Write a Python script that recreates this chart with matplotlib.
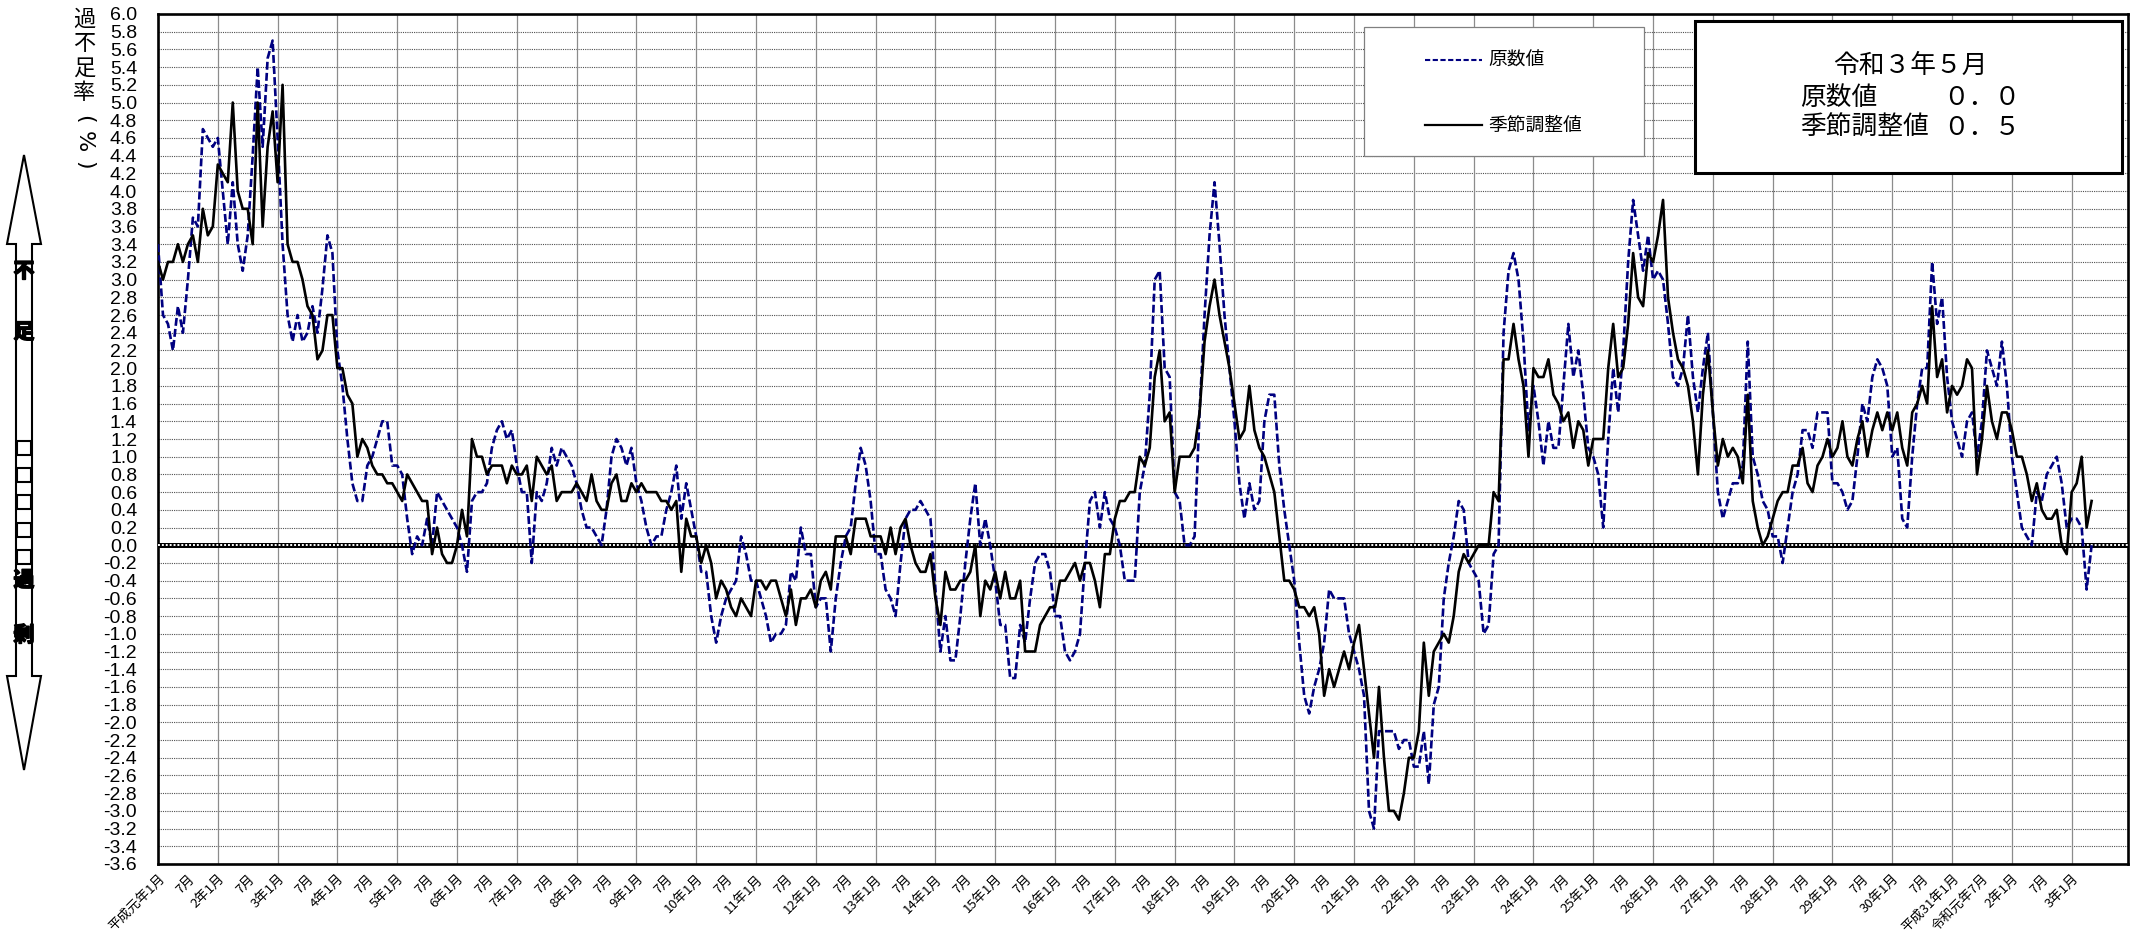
import numpy as np
import matplotlib.pyplot as plt
import matplotlib.patheffects as pe
from matplotlib.lines import Line2D
from matplotlib.patches import Polygon, Rectangle
from matplotlib.ticker import FormatStrFormatter

# monthly values, 平成元年1月 .. 令和3年5月
raw = [
    3.4, 2.6, 2.5, 2.2, 2.7, 2.4, 3.0, 3.7, 3.6, 4.7, 4.6, 4.5,
    4.6, 4.0, 3.4, 4.1, 3.4, 3.1, 3.5, 4.4, 5.4, 4.5, 5.5, 5.7,
    4.6, 3.4, 2.6, 2.3, 2.6, 2.3, 2.4, 2.7, 2.4, 2.9, 3.5, 3.3,
    2.2, 1.8, 1.2, 0.7, 0.5, 0.5, 0.9, 1.0, 1.2, 1.4, 1.4, 0.9,
    0.9, 0.8, 0.3, -0.1, 0.1, 0.0, 0.3, 0.0, 0.6, 0.5, 0.4, 0.3,
    0.2, 0.0, -0.3, 0.5, 0.6, 0.6, 0.7, 1.1, 1.3, 1.4, 1.2, 1.3,
    0.9, 0.6, 0.6, -0.2, 0.6, 0.5, 0.7, 1.1, 0.9, 1.1, 1.0, 0.9,
    0.7, 0.4, 0.2, 0.2, 0.1, 0.0, 0.4, 1.0, 1.2, 1.1, 0.9, 1.1,
    0.7, 0.5, 0.2, 0.0, 0.1, 0.1, 0.4, 0.6, 0.9, 0.3, 0.7, 0.4,
    0.1, -0.3, -0.3, -0.8, -1.1, -0.8, -0.6, -0.5, -0.4, 0.1, -0.1, -0.4,
    -0.4, -0.6, -0.8, -1.1, -1.0, -1.0, -0.9, -0.3, -0.4, 0.2, -0.1, -0.1,
    -0.7, -0.6, -0.6, -1.2, -0.6, -0.2, 0.1, 0.2, 0.7, 1.1, 0.9, 0.5,
    -0.1, -0.1, -0.5, -0.6, -0.8, -0.2, 0.3, 0.4, 0.4, 0.5, 0.4, 0.3,
    -0.5, -1.2, -0.8, -1.3, -1.3, -0.8, -0.2, 0.3, 0.7, 0.0, 0.3, 0.0,
    -0.4, -0.9, -0.9, -1.5, -1.5, -0.9, -1.1, -0.6, -0.2, -0.1, -0.1, -0.3,
    -0.8, -0.8, -1.2, -1.3, -1.2, -1.0, -0.2, 0.5, 0.6, 0.2, 0.6, 0.3,
    0.2, 0.0, -0.4, -0.4, -0.4, 0.6, 0.9, 1.7, 3.0, 3.1, 2.0, 1.9,
    0.6, 0.5, 0.0, 0.0, 0.1, 1.5, 2.6, 3.5, 4.1, 3.4, 2.6, 2.0,
    1.4, 0.7, 0.3, 0.7, 0.4, 0.5, 1.4, 1.7, 1.7, 0.9, 0.4, 0.0,
    -0.4, -1.1, -1.7, -1.9, -1.6, -1.4, -1.1, -0.5, -0.6, -0.6, -0.6, -1.0,
    -1.2, -1.4, -1.7, -3.0, -3.2, -2.1, -2.1, -2.1, -2.1, -2.3, -2.2, -2.2,
    -2.5, -2.5, -2.1, -2.7, -1.8, -1.6, -0.6, -0.2, 0.1, 0.5, 0.4, -0.2,
    -0.3, -0.4, -1.0, -0.9, -0.1, 0.0, 2.4, 3.1, 3.3, 3.0, 2.3, 1.3,
    1.8, 1.4, 0.9, 1.4, 1.1, 1.1, 1.8, 2.5, 1.9, 2.2, 1.7, 1.1,
    1.0, 0.8, 0.2, 1.2, 2.0, 1.5, 2.2, 3.2, 3.9, 3.5, 3.1, 3.5,
    3.0, 3.1, 3.0, 2.5, 1.9, 1.8, 2.0, 2.6, 1.9, 1.5, 2.0, 2.4,
    1.5, 0.6, 0.3, 0.5, 0.7, 0.7, 0.9, 2.3, 1.0, 0.8, 0.5, 0.4,
    0.1, 0.1, -0.2, 0.2, 0.6, 0.8, 1.3, 1.3, 1.1, 1.5, 1.5, 1.5,
    0.7, 0.7, 0.6, 0.4, 0.5, 1.0, 1.6, 1.4, 1.9, 2.1, 2.0, 1.8,
    1.0, 1.1, 0.3, 0.2, 1.0, 1.6, 2.0, 2.0, 3.2, 2.5, 2.8, 1.9,
    1.4, 1.2, 1.0, 1.4, 1.5, 1.0, 1.4, 2.2, 2.0, 1.8, 2.3, 1.8,
    1.0, 0.6, 0.2, 0.1, 0.0, 0.6, 0.5, 0.8, 0.9, 1.0, 0.7, 0.2,
    0.3, 0.3, 0.2, -0.5, 0.0,
]

adjusted = [
    3.2, 3.0, 3.2, 3.2, 3.4, 3.2, 3.4, 3.5, 3.2, 3.8, 3.5, 3.6,
    4.3, 4.2, 4.1, 5.0, 4.0, 3.8, 3.8, 3.4, 5.0, 3.6, 4.5, 4.9,
    4.1, 5.2, 3.4, 3.2, 3.2, 3.0, 2.7, 2.6, 2.1, 2.2, 2.6, 2.6,
    2.0, 2.0, 1.7, 1.6, 1.0, 1.2, 1.1, 0.9, 0.8, 0.8, 0.7, 0.7,
    0.6, 0.5, 0.8, 0.7, 0.6, 0.5, 0.5, -0.1, 0.2, -0.1, -0.2, -0.2,
    0.0, 0.4, 0.1, 1.2, 1.0, 1.0, 0.8, 0.9, 0.9, 0.9, 0.7, 0.9,
    0.8, 0.8, 0.9, 0.5, 1.0, 0.9, 0.8, 0.9, 0.5, 0.6, 0.6, 0.6,
    0.7, 0.6, 0.5, 0.8, 0.5, 0.4, 0.4, 0.7, 0.8, 0.5, 0.5, 0.7,
    0.6, 0.7, 0.6, 0.6, 0.6, 0.5, 0.5, 0.4, 0.5, -0.3, 0.3, 0.1,
    0.1, -0.2, 0.0, -0.2, -0.6, -0.4, -0.5, -0.7, -0.8, -0.6, -0.7, -0.8,
    -0.4, -0.4, -0.5, -0.4, -0.4, -0.6, -0.8, -0.5, -0.9, -0.6, -0.6, -0.5,
    -0.7, -0.4, -0.3, -0.5, 0.1, 0.1, 0.1, -0.1, 0.3, 0.3, 0.3, 0.1,
    0.1, 0.1, -0.1, 0.2, -0.1, 0.2, 0.3, 0.0, -0.2, -0.3, -0.3, -0.1,
    -0.6, -0.9, -0.3, -0.5, -0.5, -0.4, -0.4, -0.3, 0.0, -0.8, -0.4, -0.5,
    -0.3, -0.6, -0.3, -0.6, -0.6, -0.4, -1.2, -1.2, -1.2, -0.9, -0.8, -0.7,
    -0.7, -0.4, -0.4, -0.3, -0.2, -0.4, -0.2, -0.2, -0.4, -0.7, -0.1, -0.1,
    0.3, 0.5, 0.5, 0.6, 0.6, 1.0, 0.9, 1.1, 1.9, 2.2, 1.4, 1.5,
    0.6, 1.0, 1.0, 1.0, 1.1, 1.5, 2.3, 2.7, 3.0, 2.6, 2.3, 2.0,
    1.6, 1.2, 1.3, 1.8, 1.3, 1.1, 1.0, 0.8, 0.6, 0.1, -0.4, -0.4,
    -0.5, -0.7, -0.7, -0.8, -0.7, -1.0, -1.7, -1.4, -1.6, -1.4, -1.2, -1.4,
    -1.1, -0.9, -1.4, -1.9, -2.4, -1.6, -2.4, -3.0, -3.0, -3.1, -2.8, -2.4,
    -2.4, -2.1, -1.1, -1.7, -1.2, -1.1, -1.0, -1.1, -0.8, -0.3, -0.1, -0.2,
    -0.1, 0.0, 0.0, 0.0, 0.6, 0.5, 2.1, 2.1, 2.5, 2.1, 1.8, 1.0,
    2.0, 1.9, 1.9, 2.1, 1.7, 1.6, 1.4, 1.5, 1.1, 1.4, 1.3, 0.9,
    1.2, 1.2, 1.2, 2.0, 2.5, 1.9, 2.0, 2.5, 3.3, 2.8, 2.7, 3.3,
    3.2, 3.5, 3.9, 2.8, 2.4, 2.1, 2.0, 1.8, 1.4, 0.8, 1.7, 2.2,
    1.5, 0.9, 1.2, 1.0, 1.1, 1.0, 0.7, 1.7, 0.5, 0.2, 0.0, 0.1,
    0.3, 0.5, 0.6, 0.6, 0.9, 0.9, 1.1, 0.7, 0.6, 0.9, 1.0, 1.2,
    1.0, 1.1, 1.4, 1.0, 0.9, 1.2, 1.4, 1.0, 1.3, 1.5, 1.3, 1.5,
    1.3, 1.5, 1.1, 0.9, 1.5, 1.6, 1.8, 1.6, 2.7, 1.9, 2.1, 1.5,
    1.8, 1.7, 1.8, 2.1, 2.0, 0.8, 1.2, 1.8, 1.4, 1.2, 1.5, 1.5,
    1.3, 1.0, 1.0, 0.8, 0.5, 0.7, 0.4, 0.3, 0.3, 0.4, 0.0, -0.1,
    0.6, 0.7, 1.0, 0.2, 0.5,
]

xlabels = [
    "平成元年1月", "7月", "2年1月", "7月", "3年1月", "7月", "4年1月", "7月",
    "5年1月", "7月", "6年1月", "7月", "7年1月", "7月", "8年1月", "7月",
    "9年1月", "7月", "10年1月", "7月", "11年1月", "7月", "12年1月", "7月",
    "13年1月", "7月", "14年1月", "7月", "15年1月", "7月", "16年1月", "7月",
    "17年1月", "7月", "18年1月", "7月", "19年1月", "7月", "20年1月", "7月",
    "21年1月", "7月", "22年1月", "7月", "23年1月", "7月", "24年1月", "7月",
    "25年1月", "7月", "26年1月", "7月", "27年1月", "7月", "28年1月", "7月",
    "29年1月", "7月", "30年1月", "7月", "平成31年1月", "令和元年7月",
    "2年1月", "7月", "3年1月",
]

series_names = ["原数値", "季節調整値"]
latest_month = "令和３年５月"
latest_values = ["０．０", "０．５"]

W, H = 2141, 931
plt.rcParams["font.family"] = ["Noto Sans CJK JP", "DejaVu Sans"]
plt.rcParams["axes.unicode_minus"] = False


def fx(x):
    return x / W


def fy(y):
    return 1 - y / H


fig = plt.figure(figsize=(W / 100, H / 100), dpi=100)
ax = fig.add_axes([fx(158), fy(864), (2128 - 158) / W, (864 - 14) / H])

months = np.arange(len(raw))
ax.plot(months, raw, color="#000080", lw=1.9, ls=(0, (3, 1.2)), zorder=4)
ax.plot(months, adjusted, color="black", lw=1.9, zorder=5)

ax.set_xlim(0, 395.3)
ax.set_ylim(-3.6, 6.0)

yticks = np.round(np.arange(-3.6, 6.01, 0.2), 1)
ax.set_yticks(yticks)
ax.yaxis.set_major_formatter(FormatStrFormatter("%.1f"))
ax.tick_params(axis="y", length=0, pad=15, labelsize=14)
for lab in ax.get_yticklabels():
    lab.set_fontfamily("Liberation Sans")

ax.set_xticks(np.arange(0, 6 * len(xlabels), 6))
ax.set_xticklabels(xlabels, rotation=45, ha="right", va="top",
                   rotation_mode="anchor", fontsize=9.5)
ax.tick_params(axis="x", length=0, pad=6)

# grid: dotted every 0.2, plain line every January
for v in yticks:
    ax.axhline(v, color="#505050", lw=0.8, ls=(0, (1, 1)), zorder=1)
for m in range(12, 396, 12):
    ax.axvline(m, color="#8c8c8c", lw=0.9, zorder=1)

# checkered zero line
ax.axhline(0, color="black", lw=3.6, zorder=2)
ax.axhline(0, color="white", lw=1.4, ls=(0, (1, 1)), zorder=3)

for s in ax.spines.values():
    s.set_linewidth(1.9)

# legend box
fig.add_artist(Rectangle((fx(1364), fy(156)), (1644 - 1364) / W, (156 - 27) / H,
                         transform=fig.transFigure, facecolor="white",
                         edgecolor="#808080", lw=0.9, zorder=5))
fig.add_artist(Line2D([fx(1425), fx(1482)], [fy(60), fy(60)], color="#000080",
                      lw=1.5, ls=(0, (2.5, 1.2)), zorder=6))
fig.add_artist(Line2D([fx(1425), fx(1482)], [fy(125), fy(125)], color="black",
                      lw=1.6, zorder=6))
fig.text(fx(1488), fy(60), series_names[0], ha="left", va="center",
         fontsize=13.5, zorder=7)
fig.text(fx(1488), fy(125), series_names[1], ha="left", va="center",
         fontsize=13.5, zorder=7)

# latest value box
fig.add_artist(Rectangle((fx(1695), fy(173)), (2122 - 1695) / W, (173 - 21) / H,
                         transform=fig.transFigure, facecolor="white",
                         edgecolor="black", lw=2.2, zorder=5))
fig.text(fx(1910), fy(66), latest_month, ha="center", va="center",
         fontsize=18.5, zorder=7)
for y, name, val in zip([98, 128], series_names, latest_values):
    fig.text(fx(1800), fy(y), name, ha="left", va="center", fontsize=18.5, zorder=7)
    fig.text(fx(2020), fy(y), val, ha="right", va="center", fontsize=18.5, zorder=7)

# y axis title, stacked; the bracketed unit is turned sideways
for i, ch in enumerate("過不足率"):
    fig.text(fx(84), fy(19 + 24.5 * i), ch, ha="center", va="center", fontsize=16)
for ch, y in [("(", 119), ("%", 142), (")", 165)]:
    fig.text(fx(84), fy(y), ch, ha="center", va="center", fontsize=16,
             family="DejaVu Sans", rotation=-90, rotation_mode="anchor")

# double arrow on the far left
cx, hw, sw = 24, 17, 8
pts = [(cx, 155), (cx + hw, 244), (cx + sw, 244), (cx + sw, 676),
       (cx + hw, 676), (cx, 770), (cx - hw, 676), (cx - sw, 676),
       (cx - sw, 244), (cx - hw, 244)]
fig.add_artist(Polygon([(fx(x), fy(y)) for x, y in pts], closed=True,
                       transform=fig.transFigure, facecolor="white",
                       edgecolor="black", lw=1.5, zorder=3))
bold = [pe.withStroke(linewidth=1.2, foreground="black")]
for ch, y in [("不", 271), ("足", 332), ("過", 580), ("剰", 635)]:
    fig.text(fx(cx), fy(y), ch, ha="center", va="center", fontsize=15,
             fontweight="bold", zorder=4, path_effects=bold)
for y in [448, 475, 502, 530, 557]:
    fig.add_artist(Rectangle((fx(cx - 7), fy(y + 7)), 14 / W, 14 / H,
                             transform=fig.transFigure, facecolor="white",
                             edgecolor="black", lw=1.5, zorder=4))

fig.savefig("out.png", dpi=100)
